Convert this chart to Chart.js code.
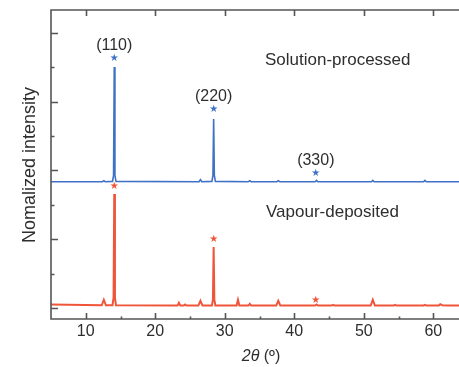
<!DOCTYPE html>
<html>
<head>
<meta charset="utf-8">
<script src="https://cdn.jsdelivr.net/npm/chart.js@4.4.1/dist/chart.umd.min.js"></script>
<style>
    html, body { margin: 0; padding: 0; background: #fff; }
    #xrd { display: block; }
</style>
</head>
<body>
<canvas id="xrd" width="459" height="367"></canvas>
<script>
// Diffraction data (2theta in degrees, intensity in offset plot units)
const blueX = [5, 12.4, 12.6, 12.8, 13.85, 14.0, 14.1, 14.2, 14.35, 26.3, 26.5, 26.7, 28.15, 28.3, 28.4, 28.5, 28.65,
    33.4, 33.6, 33.8, 37.5, 37.7, 37.9, 43.0, 43.2, 43.4, 51.1, 51.3, 51.5, 58.6, 58.8, 59.0, 63.7];
const blueY = [3.67, 3.67, 3.70, 3.67, 3.68, 3.85, 7.0, 3.85, 3.68, 3.67, 3.73, 3.67, 3.68, 3.85, 5.49, 3.85, 3.68,
    3.67, 3.70, 3.67, 3.67, 3.70, 3.67, 3.67, 3.71, 3.67, 3.67, 3.71, 3.67, 3.67, 3.71, 3.67, 3.67];

const redX = [5, 12.3, 12.6, 12.9, 13.85, 14.0, 14.1, 14.2, 14.35, 23.2, 23.4, 23.6, 24.1, 24.3, 24.5, 26.2, 26.5, 26.8,
    28.15, 28.3, 28.4, 28.5, 28.65, 31.7, 31.9, 32.1, 33.4, 33.6, 33.8, 37.4, 37.7, 38.0, 43.0, 43.2, 43.4,
    45.4, 45.6, 45.8, 51.0, 51.3, 51.6, 54.3, 54.5, 54.7, 58.6, 58.8, 59.0, 60.8, 61.0, 61.3, 62.0, 63.7];
const redY = [0.10, 0.08, 0.24, 0.08, 0.08, 0.30, 3.31, 0.30, 0.08, 0.07, 0.15, 0.07, 0.07, 0.10, 0.07, 0.07, 0.21, 0.07,
    0.07, 0.25, 1.77, 0.25, 0.07, 0.07, 0.24, 0.07, 0.07, 0.12, 0.07, 0.07, 0.21, 0.07, 0.07, 0.10, 0.07,
    0.07, 0.09, 0.07, 0.07, 0.24, 0.07, 0.07, 0.09, 0.07, 0.07, 0.09, 0.07, 0.07, 0.11, 0.08, 0.07, 0.07];

// Peak markers
const peakLabels = ['(110)', '(220)', '(330)'];
const starX = [14.1, 28.4, 43.1];
const blueStarY = [7.24, 5.76, 3.92];
const redStarY = [3.52, 1.98, 0.23];

// Axis ticks
const xTicks = [10, 20, 30, 40, 50, 60];
const xMinor = [15, 25, 35, 45, 55];
const yMajor = [0, 2, 4, 6, 8];
const yMinor = [1, 3, 5, 7];

const BLUE = '#3f72c6';
const RED = '#f0553a';
const AXIS = '#555555';
const TEXT = '#2e2e2e';
const FONT = '"Liberation Sans", Arial, sans-serif';

function toPoints(xs, ys) {
    return xs.map((x, i) => ({ x: x, y: ys[i] }));
}

// Frame, inward ticks, stars and annotations
const decorPlugin = {
    id: 'decor',
    afterDatasetsDraw(chart) {
        const ctx = chart.ctx;
        const area = chart.chartArea;
        const xs = chart.scales.x;
        const ys = chart.scales.y;

        ctx.save();
        ctx.strokeStyle = AXIS;
        ctx.lineWidth = 1.6;
        ctx.beginPath();
        ctx.moveTo(area.right, area.top);
        ctx.lineTo(area.left, area.top);
        ctx.lineTo(area.left, area.bottom);
        ctx.lineTo(area.right, area.bottom);
        ctx.stroke();

        ctx.beginPath();
        xTicks.forEach(v => {
            const px = Math.round(xs.getPixelForValue(v)) + 0.5;
            ctx.moveTo(px, area.bottom);
            ctx.lineTo(px, area.bottom - 6);
            ctx.moveTo(px, area.top);
            ctx.lineTo(px, area.top + 6);
        });
        xMinor.forEach(v => {
            const px = Math.round(xs.getPixelForValue(v)) + 0.5;
            ctx.moveTo(px, area.bottom);
            ctx.lineTo(px, area.bottom - 2.5);
        });
        yMajor.forEach(v => {
            const py = Math.round(ys.getPixelForValue(v)) + 0.5;
            ctx.moveTo(area.left, py);
            ctx.lineTo(area.left + 7, py);
        });
        yMinor.forEach(v => {
            const py = Math.round(ys.getPixelForValue(v)) + 0.5;
            ctx.moveTo(area.left, py);
            ctx.lineTo(area.left + 3.5, py);
        });
        ctx.stroke();

        // stars
        ctx.textAlign = 'center';
        ctx.textBaseline = 'middle';
        ctx.font = '10px "DejaVu Sans"';
        starX.forEach((x, i) => {
            const px = xs.getPixelForValue(x);
            ctx.fillStyle = BLUE;
            ctx.fillText('\u2605', px, ys.getPixelForValue(blueStarY[i]));
            ctx.fillStyle = RED;
            ctx.fillText('\u2605', px, ys.getPixelForValue(redStarY[i]));
        });

        // peak labels
        ctx.fillStyle = TEXT;
        ctx.font = '16px ' + FONT;
        peakLabels.forEach((lbl, i) => {
            const px = xs.getPixelForValue(starX[i]);
            const py = ys.getPixelForValue(blueStarY[i]) - 13;
            ctx.fillText(lbl, px, py);
        });

        // sample names
        ctx.font = '17px ' + FONT;
        ctx.textAlign = 'left';
        ctx.fillText('Solution-processed', 265, 60);
        ctx.fillText('Vapour-deposited', 266, 212);

        // axis titles
        ctx.font = 'italic 16px ' + FONT;
        ctx.textAlign = 'left';
        const w1 = ctx.measureText('2\u03b8').width;
        ctx.font = '16px ' + FONT;
        const w2 = ctx.measureText(' (\u00ba)').width;
        const startX = 261 - (w1 + w2) / 2;
        ctx.font = 'italic 16px ' + FONT;
        ctx.fillText('2\u03b8', startX, 357);
        ctx.font = '16px ' + FONT;
        ctx.fillText(' (\u00ba)', startX + w1, 357);

        ctx.translate(30, 165);
        ctx.rotate(-Math.PI / 2);
        ctx.textAlign = 'center';
        ctx.font = '18px ' + FONT;
        ctx.fillText('Nomalized intensity', 0, 0);
        ctx.restore();
    }
};

new Chart(document.getElementById('xrd'), {
    type: 'line',
    data: {
        datasets: [
            {
                label: 'Solution-processed',
                data: toPoints(blueX, blueY),
                borderColor: BLUE,
                borderWidth: 1.6,
                pointRadius: 0,
                tension: 0,
                fill: false
            },
            {
                label: 'Vapour-deposited',
                data: toPoints(redX, redY),
                borderColor: RED,
                borderWidth: 2,
                pointRadius: 0,
                tension: 0,
                fill: false
            }
        ]
    },
    options: {
        responsive: false,
        animation: false,
        devicePixelRatio: 1,
        layout: { padding: { top: 10, right: 0, left: 0, bottom: 0 } },
        plugins: {
            legend: { display: false },
            tooltip: { enabled: false }
        },
        scales: {
            x: {
                type: 'linear',
                min: 5,
                max: 63.7,
                grid: { display: false, drawTicks: false },
                border: { display: false },
                ticks: {
                    color: TEXT,
                    font: { family: FONT, size: 16 },
                    padding: 3,
                    maxRotation: 0,
                    autoSkip: false
                },
                afterBuildTicks: scale => {
                    scale.ticks = xTicks.map(v => ({ value: v }));
                },
                afterFit: scale => { scale.height = 48; }
            },
            y: {
                type: 'linear',
                min: -0.32,
                max: 8.66,
                grid: { display: false, drawTicks: false },
                border: { display: false },
                ticks: { display: false },
                afterFit: scale => { scale.width = 51; }
            }
        }
    },
    plugins: [decorPlugin]
});
</script>
</body>
</html>
